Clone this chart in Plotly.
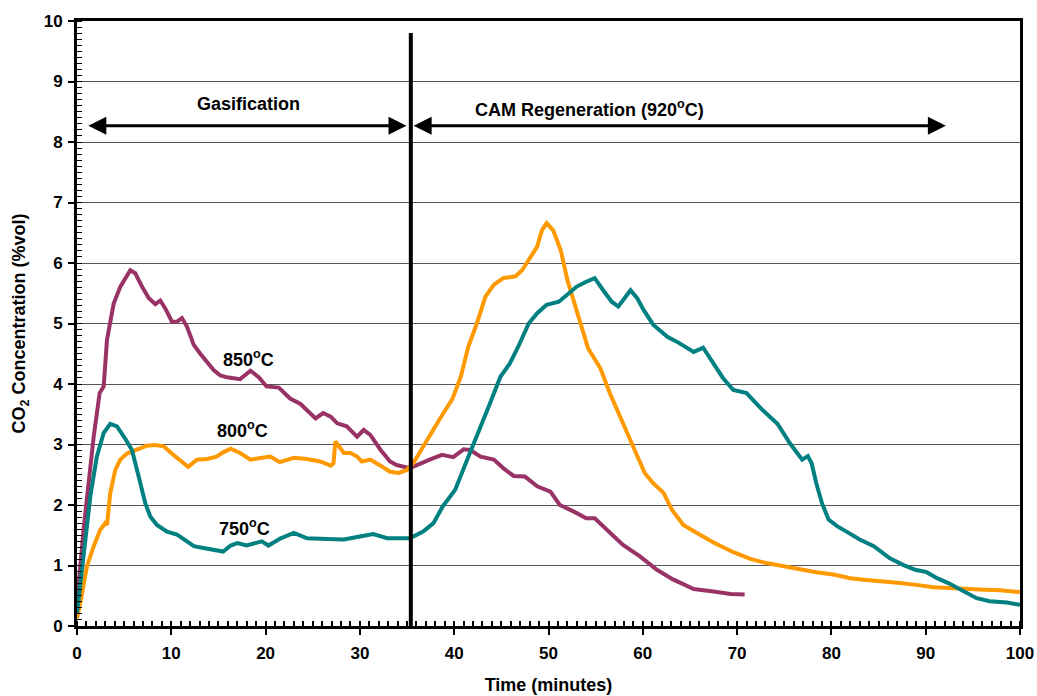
import plotly.graph_objects as go

# 850 C series
t850 = [0, 0.7, 1.77, 2.4, 2.83, 3.18, 3.89, 4.6, 5.65, 6.18, 6.89, 7.6, 8.3, 8.83, 9.36, 10.07, 10.6, 11.13,
        11.66, 12.37, 13.07, 13.78, 14.49, 15.2, 15.9, 17.3, 18.4, 19.3, 20.1, 21.4, 22.6, 23.7, 24.6, 25.3,
        26.1, 26.9, 27.6, 28.6, 29.7, 30.4, 31.1, 32.2, 33.2, 33.9, 35.3, 36.4, 37.4, 38.7, 39.9, 41.0, 41.7,
        42.8, 44.2, 45.2, 46.3, 47.5, 48.8, 50.2, 51.2, 52.7, 54.0, 54.9, 56.2, 57.9, 59.7, 61.5, 63.2, 65.4,
        67.5, 69.3, 70.8]
c850 = [0.38, 1.6, 3.13, 3.85, 3.96, 4.73, 5.33, 5.61, 5.88, 5.83, 5.61, 5.42, 5.32, 5.38, 5.25, 5.03, 5.03, 5.09,
        4.95, 4.65, 4.5, 4.37, 4.23, 4.14, 4.11, 4.08, 4.22, 4.11, 3.96, 3.94, 3.76, 3.67, 3.54, 3.43,
        3.52, 3.46, 3.35, 3.3, 3.13, 3.24, 3.16, 2.91, 2.72, 2.66, 2.61, 2.69, 2.75, 2.83, 2.79, 2.92, 2.91,
        2.8, 2.75, 2.61, 2.48, 2.47, 2.31, 2.22, 2.0, 1.89, 1.78, 1.78, 1.59, 1.34, 1.15, 0.93, 0.77, 0.61,
        0.57, 0.53, 0.52]

# 800 C series
t800 = [0, 0.35, 1.06, 1.77, 2.47, 3.0, 3.18, 3.53, 4.06, 4.59, 5.3, 6.36, 7.4, 8.3, 9.2, 10.2, 11.1, 11.8,
        12.7, 13.8, 14.8, 15.5, 16.3, 17.3, 18.4, 19.4, 20.5, 21.5, 23.0, 24.4, 25.8, 26.9, 27.2, 27.4, 27.7,
        28.3, 29.0, 29.7, 30.2, 31.1, 32.2, 33.2, 34.1, 35.0, 35.7, 37.1, 38.5, 39.8, 40.7, 41.5, 42.4, 43.3,
        44.2, 45.2, 46.5, 47.2, 47.9, 48.8, 49.3, 49.8, 50.5, 51.3, 52.0, 52.7, 53.4, 54.2, 55.5, 56.5, 57.6,
        58.5, 59.4, 60.2, 61.1, 62.2, 63.1, 64.3, 65.7, 67.5, 69.6, 71.4, 73.1, 74.9, 76.7, 78.4, 80.2, 82.0,
        83.7, 85.5, 87.3, 89.0, 90.8, 92.6, 94.4, 96.2, 97.9, 100]
c800 = [0.13, 0.38, 0.99, 1.32, 1.59, 1.70, 1.67, 2.20, 2.58, 2.75, 2.85, 2.91, 2.98, 2.99, 2.97, 2.83, 2.72, 2.63,
        2.75, 2.76, 2.80, 2.87, 2.93, 2.86, 2.75, 2.78, 2.80, 2.71, 2.78, 2.76, 2.72, 2.65, 2.69, 3.05, 2.99,
        2.86, 2.86, 2.80, 2.72, 2.75, 2.65, 2.55, 2.53, 2.58, 2.70, 3.08, 3.43, 3.75, 4.12, 4.62, 5.0, 5.44,
        5.64, 5.75, 5.78, 5.88, 6.05, 6.27, 6.54, 6.66, 6.54, 6.21, 5.72, 5.33, 5.0, 4.59, 4.26, 3.85, 3.46,
        3.13, 2.80, 2.53, 2.36, 2.20, 1.92, 1.67, 1.54, 1.38, 1.22, 1.11, 1.04, 0.99, 0.93, 0.89, 0.85, 0.79,
        0.76, 0.74, 0.71, 0.68, 0.64, 0.63, 0.61, 0.60, 0.59, 0.56]

# 750 C series
t750 = [0, 0.7, 1.41, 2.1, 2.83, 3.53, 4.24, 5.1, 5.83, 6.54, 7.24, 7.77, 8.48, 9.54, 10.6, 11.66, 12.4, 13.4,
        14.5, 15.5, 16.3, 17.0, 18.0, 19.1, 19.6, 20.3, 21.6, 23.0, 24.4, 26.5, 28.3, 30.0, 31.4, 32.9, 35.3,
        36.7, 37.8, 38.8, 40.1, 41.3, 42.7, 43.8, 44.9, 45.9, 46.8, 47.9, 48.8, 49.8, 51.1, 51.9, 53.0, 54.0,
        54.9, 55.8, 56.7, 57.4, 58.1, 58.7, 59.4, 60.1, 61.1, 62.6, 63.6, 64.7, 65.4, 66.4, 67.4, 68.5, 69.6,
        71.0, 72.7, 74.3, 75.6, 76.9, 77.5, 77.9, 78.4, 79.0, 79.7, 80.6, 81.6, 83.0, 84.5, 86.2, 87.6, 88.9,
        90.1, 91.2, 92.4, 94.0, 95.4, 96.8, 98.6, 100]
c750 = [0.21, 1.2, 2.14, 2.8, 3.19, 3.34, 3.30, 3.1, 2.91, 2.47, 2.03, 1.81, 1.67, 1.56, 1.51, 1.40, 1.32, 1.29,
        1.26, 1.23, 1.33, 1.37, 1.33, 1.37, 1.40, 1.33, 1.45, 1.54, 1.45, 1.44, 1.43, 1.48, 1.52, 1.45, 1.45,
        1.56, 1.70, 1.98, 2.25, 2.72, 3.24, 3.68, 4.12, 4.34, 4.62, 5.0, 5.17, 5.31, 5.36, 5.47, 5.61, 5.69,
        5.75, 5.55, 5.36, 5.28, 5.42, 5.55, 5.42, 5.22, 4.98, 4.78, 4.70, 4.59, 4.53, 4.60, 4.36, 4.10, 3.90,
        3.85, 3.57, 3.34, 3.02, 2.75, 2.81, 2.69, 2.36, 2.03, 1.76, 1.65, 1.56, 1.43, 1.32, 1.12, 1.01, 0.93,
        0.89, 0.79, 0.71, 0.57, 0.46, 0.41, 0.39, 0.35]

phase_split = 35.4
arrow_y = 8.27
FONT = "Arial, Liberation Sans, sans-serif"

fig = go.Figure()
fig.add_trace(go.Scatter(x=t850, y=c850, mode="lines", line=dict(color="#993366", width=4), name="850"))
fig.add_trace(go.Scatter(x=t800, y=c800, mode="lines", line=dict(color="#FF9900", width=4), name="800"))
fig.add_trace(go.Scatter(x=t750, y=c750, mode="lines", line=dict(color="#008080", width=4), name="750"))

fig.add_shape(type="line", x0=phase_split, x1=phase_split, y0=0, y1=9.8, xref="x", yref="y",
              line=dict(color="black", width=4))

arrow_common = dict(xref="x", yref="y", axref="x", ayref="y", text="", showarrow=True,
                    arrowhead=2, arrowside="end+start", arrowsize=1.2, arrowwidth=3, arrowcolor="black")
fig.add_annotation(x=1.2, y=arrow_y, ax=phase_split - 0.3, ay=arrow_y, **arrow_common)
fig.add_annotation(x=phase_split + 0.3, y=arrow_y, ax=92.3, ay=arrow_y, **arrow_common)

lab = dict(xref="x", yref="y", showarrow=False, font=dict(family=FONT, size=18, color="black"))
fig.add_annotation(x=18.2, y=8.62, text="<b>Gasification</b>", **lab)
fig.add_annotation(x=54.4, y=8.55, text="<b>CAM Regeneration (920<sup>o</sup>C)</b>", **lab)
fig.add_annotation(x=18.2, y=4.42, text="<b>850<sup>o</sup>C</b>", **lab)
fig.add_annotation(x=17.6, y=3.24, text="<b>800<sup>o</sup>C</b>", **lab)
fig.add_annotation(x=17.8, y=1.62, text="<b>750<sup>o</sup>C</b>", **lab)

fig.update_layout(
    width=1037, height=696,
    margin=dict(l=77, r=17, t=21, b=70),
    paper_bgcolor="white", plot_bgcolor="white",
    showlegend=False,
    font=dict(family=FONT, color="black"),
)
fig.update_xaxes(
    range=[0, 100], tickvals=list(range(0, 101, 10)), ticktext=[f"<b>{v}</b>" for v in range(0, 101, 10)],
    tickfont=dict(size=17), showgrid=False, zeroline=False, automargin=False, ticklabelstandoff=4,
    showline=True, linecolor="black", linewidth=3, mirror=True,
    ticks="outside", ticklen=6, tickwidth=2, tickcolor="black",
    minor=dict(dtick=1, ticks="inside", ticklen=5, tickcolor="black", tickwidth=1.5, showgrid=False),
    title=dict(text="<b>Time (minutes)</b>", font=dict(size=18), standoff=16),
)
fig.update_yaxes(
    range=[0, 10], tickvals=list(range(0, 11)), ticktext=[f"<b>{v}</b>" for v in range(0, 11)],
    tickfont=dict(size=17), showgrid=True, gridcolor="#555555", gridwidth=1, zeroline=False, automargin=False,
    ticklabelstandoff=2,
    showline=True, linecolor="black", linewidth=3, mirror=True,
    ticks="outside", ticklen=6, tickwidth=2, tickcolor="black",
    minor=dict(dtick=0.1, ticks="inside", ticklen=5, tickcolor="black", tickwidth=1, showgrid=False),
    title=dict(text="<b>CO<sub>2</sub> Concentration (%vol)</b>", font=dict(size=18), standoff=14),
)

fig.write_html("out.html")
